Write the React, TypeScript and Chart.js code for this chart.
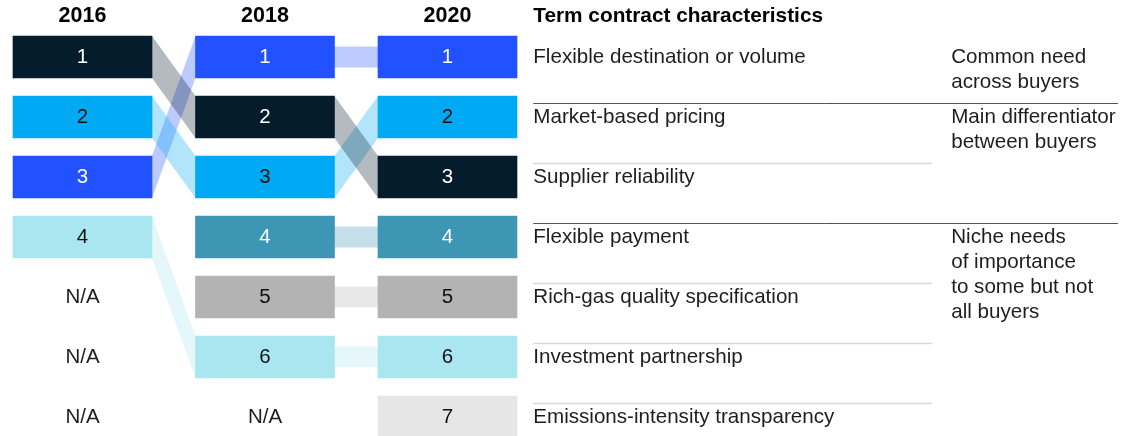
import { useEffect, useRef } from 'react';
import { Chart, registerables } from 'chart.js';

Chart.register(...registerables);

// ---------- data ----------
const years = ['2016', '2018', '2020'];
const characteristics = [
  'Flexible destination or volume',
  'Market-based pricing',
  'Supplier reliability',
  'Flexible payment',
  'Rich-gas quality specification',
  'Investment partnership',
  'Emissions-intensity transparency',
];
const rank2016 = [3, 2, 1, null, null, 4, null];
const rank2018 = [1, 3, 2, 4, 5, 6, null];
const rank2020 = [1, 2, 3, 4, 5, 6, 7];
const rankTicks = [1, 2, 3, 4, 5, 6, 7];
const naLabel = 'N/A';
const listTitle = 'Term contract characteristics';
const groupLabels = [
  ['Common need', 'across buyers'],
  ['Main differentiator', 'between buyers'],
  ['Niche needs', 'of importance', 'to some but not', 'all buyers'],
];
const groupStartRanks = [1, 2, 4];

// ---------- styles ----------
const boxColors = ['#2251FF', '#00A9F4', '#051C2C', '#3C96B4', '#B3B3B3', '#AAE6F0', '#E6E6E6'];
const numberColors = ['#FFFFFF', '#111111', '#FFFFFF', '#FFFFFF', '#111111', '#111111', '#111111'];
const FONT = '"Liberation Sans", Arial, Helvetica, sans-serif';
const BOX_HALF = 0.35; // in rank units
const HEADER_RANK = 0.32;
const LABEL_X = 2.47;
const LIGHT_END = 4.655;
const GROUP_X = 4.76;
const DARK_END = 5.674;
const SEP_OFFSET = 0.235;
const GROUP_LINE = 25 / 60;

const ranksByYear = [rank2016, rank2018, rank2020];

function withAlpha(hex: string, a: number) {
  const n = parseInt(hex.slice(1), 16);
  return `rgba(${(n >> 16) & 255},${(n >> 8) & 255},${n & 255},${a})`;
}

const ribbonPlugin = {
  id: 'ribbons',
  beforeDatasetsDraw(chart: any) {
    const ctx = chart.ctx;
    ctx.save();
    chart.data.datasets.forEach((ds: any, c: number) => {
      const meta = chart.getDatasetMeta(c);
      const els = meta.data;
      const pts = ds.data;
      for (let j = 0; j + 1 < els.length; j++) {
        if (pts[j + 1].x !== pts[j].x + 1) continue;
        const a = els[j].getProps(['x', 'y', 'base', 'width'], true);
        const b = els[j + 1].getProps(['x', 'y', 'base', 'width'], true);
        const ax = a.x + a.width / 2;
        const bx = b.x - b.width / 2;
        const aTop = Math.min(a.y, a.base);
        const aBot = Math.max(a.y, a.base);
        const bTop = Math.min(b.y, b.base);
        const bBot = Math.max(b.y, b.base);
        ctx.fillStyle = withAlpha(boxColors[c], 0.3);
        ctx.beginPath();
        if (Math.abs(aTop - bTop) < 0.5) {
          const mid = (aTop + aBot) / 2;
          const h = (aBot - aTop) / 4;
          ctx.rect(ax, mid - h, bx - ax, 2 * h);
        } else {
          ctx.moveTo(ax, aTop);
          ctx.lineTo(bx, bTop);
          ctx.lineTo(bx, bBot);
          ctx.lineTo(ax, aBot);
          ctx.closePath();
        }
        ctx.fill();
      }
    });
    ctx.restore();
  },
};

const textPlugin = {
  id: 'texts',
  afterDatasetsDraw(chart: any) {
    const ctx = chart.ctx;
    const xs = chart.scales.x;
    const ys = chart.scales.y;
    ctx.save();
    ctx.textBaseline = 'middle';

    // numbers inside boxes
    ctx.textAlign = 'center';
    ctx.font = `20.5px ${FONT}`;
    chart.data.datasets.forEach((ds: any, c: number) => {
      const meta = chart.getDatasetMeta(c);
      meta.data.forEach((el: any, j: number) => {
        const p = ds.data[j];
        const rank = Math.round((p.y[0] + p.y[1]) / 2);
        const props = el.getProps(['x', 'y', 'base'], true);
        ctx.fillStyle = numberColors[c];
        ctx.fillText(String(rank), props.x, (props.y + props.base) / 2 + 0.5);
      });
    });

    // N/A placeholders
    ctx.fillStyle = '#1e1e1e';
    ranksByYear.forEach((ranks, yi) => {
      rankTicks.forEach((r) => {
        if (!ranks.includes(r)) {
          ctx.fillText(naLabel, xs.getPixelForValue(yi), ys.getPixelForValue(r) + 0.5);
        }
      });
    });

    // year headers
    ctx.font = `bold 21.5px ${FONT}`;
    ctx.fillStyle = '#000000';
    years.forEach((yr, i) => {
      ctx.fillText(yr, xs.getPixelForValue(i), ys.getPixelForValue(HEADER_RANK));
    });
    ctx.font = `bold 20.8px ${FONT}`;
    ctx.textAlign = 'left';
    ctx.fillText(listTitle, xs.getPixelForValue(LABEL_X), ys.getPixelForValue(HEADER_RANK));

    // separators
    const lx = xs.getPixelForValue(LABEL_X);
    rankTicks.slice(1).forEach((r) => {
      const dark = groupStartRanks.includes(r);
      const y = Math.round(ys.getPixelForValue(r - SEP_OFFSET)) + 0.5;
      ctx.strokeStyle = dark ? '#555555' : '#D9D9D9';
      ctx.lineWidth = dark ? 1 : 1.5;
      ctx.beginPath();
      ctx.moveTo(lx, y);
      ctx.lineTo(xs.getPixelForValue(dark ? DARK_END : LIGHT_END), y);
      ctx.stroke();
    });

    // characteristic labels
    ctx.font = `20.6px ${FONT}`;
    ctx.fillStyle = '#1e1e1e';
    characteristics.forEach((name, c) => {
      ctx.fillText(name, lx, ys.getPixelForValue(rank2020[c]));
    });

    // group labels
    const gx = xs.getPixelForValue(GROUP_X);
    groupLabels.forEach((lines, g) => {
      lines.forEach((line, k) => {
        ctx.fillText(line, gx, ys.getPixelForValue(groupStartRanks[g] + k * GROUP_LINE));
      });
    });

    ctx.restore();
  },
};

export default function App() {
  const ref = useRef<HTMLCanvasElement>(null);
  useEffect(() => {
    if (!ref.current) return;
    const datasets = characteristics.map((name, c) => ({
      label: name,
      data: ranksByYear
        .map((ranks, yi) => (ranks[c] == null ? null : { x: yi, y: [ranks[c] - BOX_HALF, ranks[c] + BOX_HALF] }))
        .filter((d) => d !== null),
      backgroundColor: boxColors[c],
      borderWidth: 0,
      barThickness: 139,
      grouped: false,
    }));
    const chart = new Chart(ref.current, {
      type: 'bar',
      data: { datasets: datasets as any },
      options: {
        animation: false,
        responsive: false,
        maintainAspectRatio: false,
        layout: { padding: 0 },
        plugins: { legend: { display: false }, tooltip: { enabled: false }, title: { display: false } },
        scales: {
          x: { type: 'linear', min: -0.452, max: 5.7726, display: false, offset: false },
          y: { type: 'linear', reverse: true, min: 0.05, max: 7.3167, display: false },
        },
      },
      plugins: [ribbonPlugin, textPlugin],
    });
    return () => chart.destroy();
  }, []);
  return (
    <div style={{ position: 'fixed', left: 0, top: 0, width: 1136, height: 436, background: '#fff' }}>
      <canvas ref={ref} width={1136} height={436} />
    </div>
  );
}
